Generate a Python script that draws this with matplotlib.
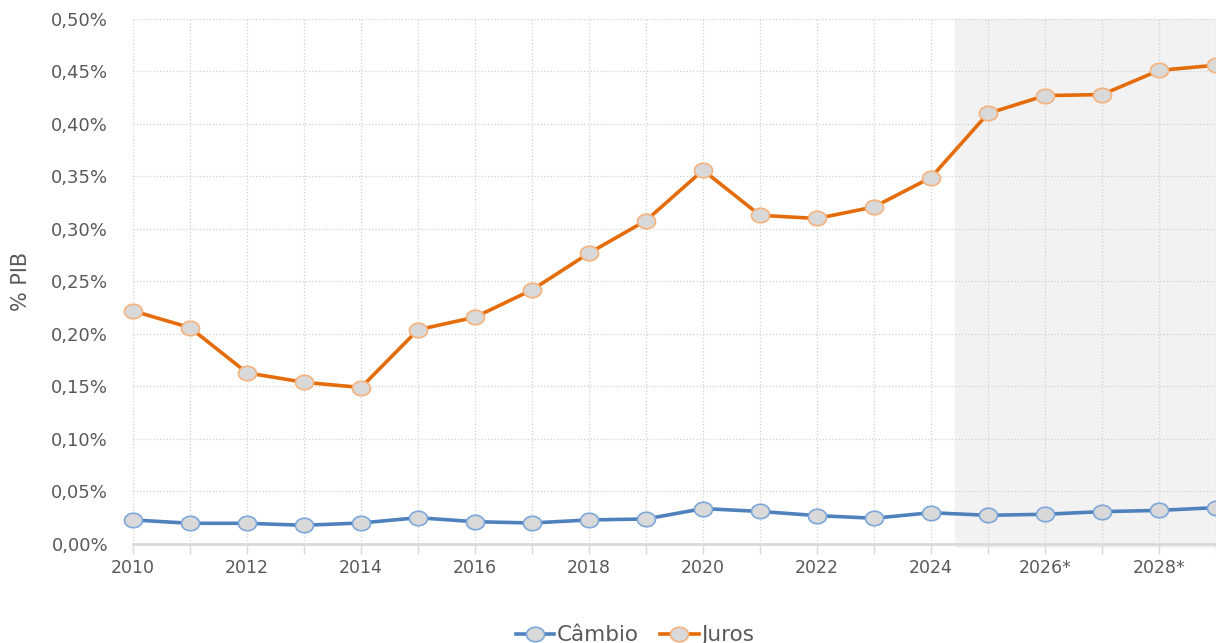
import numpy as np
import matplotlib.pyplot as plt
from matplotlib.ticker import FuncFormatter, MultipleLocator

# Dados (% do PIB)
anos = np.arange(2010, 2030)
cambio = [0.0229, 0.0197, 0.0197, 0.0178, 0.0200, 0.0250, 0.0212, 0.0200, 0.0229, 0.0238,
          0.0337, 0.0310, 0.0270, 0.0245, 0.0298, 0.0273, 0.0283, 0.0308, 0.0320, 0.0346]
juros = [0.222, 0.206, 0.163, 0.154, 0.149, 0.204, 0.216, 0.242, 0.277, 0.308,
         0.356, 0.313, 0.310, 0.321, 0.349, 0.410, 0.427, 0.428, 0.451, 0.456]
rotulos_x = ['2010', '2012', '2014', '2016', '2018', '2020', '2022', '2024', '2026*', '2028*']
inicio_projecao = 2024.42

cinza = '#595959'
plt.rcParams['font.family'] = 'DejaVu Sans'

# marcador oval (um pouco mais largo que alto)
t = np.linspace(0, 2*np.pi, 60)
oval = np.column_stack([1.25*np.cos(t), np.sin(t)])

fig = plt.figure(figsize=(12.16, 6.43), dpi=100)
ax = fig.add_axes([0.1094, 0.154, 0.8906, 0.8165])

ax.axvspan(inicio_projecao, 2029.5, ymin=-0.006, ymax=1, color='#f2f2f2', zorder=0, clip_on=False)

ax.plot(anos, cambio, '-', marker=oval, color='#4f81bd', lw=2.6, ms=13, mfc='#d9d9d9',
        mec='#7da7db', mew=1.2, clip_on=False, zorder=3, label='Câmbio')
ax.plot(anos, juros, '-', marker=oval, color='#e46c0a', lw=2.6, ms=13, mfc='#d9d9d9',
        mec='#f5b27c', mew=1.2, clip_on=False, zorder=3, label='Juros')

ax.set_xlim(2010, 2029)
ax.set_ylim(0, 0.5)
ax.yaxis.set_major_locator(MultipleLocator(0.05))
ax.yaxis.set_major_formatter(FuncFormatter(lambda v, p: f'{v:.2f}%'.replace('.', ',')))
ax.set_xticks(np.arange(2010, 2029, 2))
ax.set_xticklabels(rotulos_x)
ax.set_xticks(anos, minor=True)

ax.grid(True, which='both', axis='x', color='#d0d0d0', linestyle=':', linewidth=0.9, zorder=1)
ax.grid(True, which='major', axis='y', color='#d0d0d0', linestyle=':', linewidth=0.9, zorder=1)
ax.set_axisbelow(True)

for s in ['top', 'right', 'left']:
    ax.spines[s].set_visible(False)
ax.spines['bottom'].set_color('#d9d9d9')
ax.spines['bottom'].set_linewidth(2)

ax.tick_params(axis='y', length=0, labelsize=13, labelcolor=cinza, pad=18)
ax.tick_params(axis='x', which='both', length=7, color='#d9d9d9', width=1,
               labelsize=12.5, labelcolor=cinza, pad=4)
ax.set_ylabel('% PIB', fontsize=15, color=cinza, labelpad=14)

fig.legend(loc='center', bbox_to_anchor=(0.522, 0.012), ncol=2, frameon=False,
           fontsize=15.5, labelcolor=cinza, handlelength=1.8, handletextpad=0.1,
           columnspacing=1.0)

fig.savefig('out.png', dpi=100)
